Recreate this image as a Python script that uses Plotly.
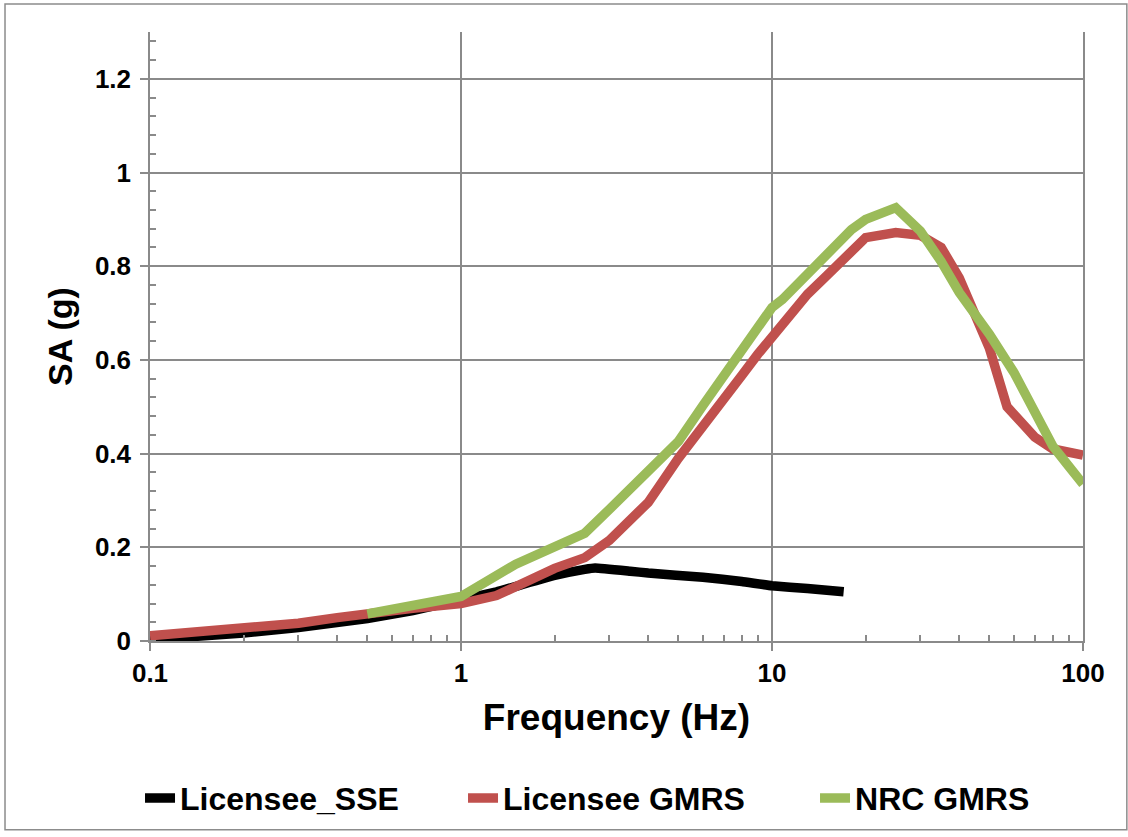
import plotly.graph_objects as go

# ---- data ----
sse_freq = [0.1, 0.2, 0.3, 0.5, 0.7, 1.0, 1.3, 2.0, 2.5, 2.7, 3.5, 4.0, 6.0, 8.0, 10.0, 13.0, 17.0]
sse_sa   = [0.003, 0.017, 0.029, 0.048, 0.065, 0.088, 0.105, 0.14, 0.153, 0.156, 0.149, 0.145, 0.136, 0.127, 0.118, 0.112, 0.105]

lic_freq = [0.1, 0.2, 0.3, 0.4, 0.5, 0.7, 1.0, 1.3, 2.0, 2.5, 3.0, 4.0, 5.0, 6.0, 7.0, 8.0, 9.0, 10.0, 13.0, 15.0,
            20.0, 25.0, 30.0, 35.0, 40.0, 50.0, 57.0, 70.0, 80.0, 100.0]
lic_sa   = [0.011, 0.025, 0.038, 0.05, 0.06, 0.07, 0.08, 0.097, 0.155, 0.178, 0.215, 0.296, 0.39, 0.456, 0.516, 0.567, 0.612, 0.648, 0.74, 0.78,
            0.861, 0.872, 0.866, 0.84, 0.775, 0.625, 0.5, 0.435, 0.41, 0.397]

nrc_freq = [0.5, 0.7, 1.0, 1.5, 2.0, 2.5, 3.0, 4.0, 5.0, 6.0, 7.0, 8.0, 9.0, 10.0, 10.8, 12.5, 15.0, 18.0, 20.0, 22.0,
            25.0, 30.0, 35.0, 40.0, 50.0, 60.0, 70.0, 80.0, 90.0, 100.0]
nrc_sa   = [0.058, 0.075, 0.095, 0.164, 0.203, 0.23, 0.281, 0.36, 0.426, 0.503, 0.567, 0.62, 0.669, 0.712, 0.729, 0.77, 0.82, 0.878, 0.9, 0.912,
            0.925, 0.875, 0.81, 0.744, 0.655, 0.573, 0.49, 0.416, 0.373, 0.335]

x_ticks = [0.1, 1, 10, 100]
x_tick_labels = ["0.1", "1", "10", "100"]
x_minor = [m * d for d in (0.1, 1, 10) for m in range(2, 10)]

FONT = "Liberation Sans, Arial, sans-serif"
GRID = "#8a8a8a"
LW = 9.5

fig = go.Figure()
fig.add_trace(go.Scatter(x=sse_freq, y=sse_sa, mode="lines", name="Licensee_SSE", legendwidth=278,
                         line=dict(color="#000000", width=LW, shape="spline", smoothing=0.3)))
fig.add_trace(go.Scatter(x=lic_freq, y=lic_sa, mode="lines", name="Licensee GMRS", legendwidth=307,
                         line=dict(color="#C0504D", width=LW)))
fig.add_trace(go.Scatter(x=nrc_freq, y=nrc_sa, mode="lines", name="NRC GMRS",
                         line=dict(color="#9BBB59", width=LW)))

fig.update_layout(
    width=1128, height=837,
    margin=dict(l=150, r=45, t=32, b=195),
    paper_bgcolor="white", plot_bgcolor="white",
    font=dict(family=FONT, color="black", size=24, weight="bold"),
    showlegend=True,
    legend=dict(orientation="h", x=-0.0107, xanchor="left", y=-0.256, yanchor="middle",
                font=dict(family=FONT, size=32, weight="bold", color="black"),
                tracegroupgap=0),
    shapes=[dict(type="rect", xref="paper", yref="paper",
                 x0=-0.1554, x1=1.047, y0=-0.31, y1=1.0459,
                 line=dict(color="#8c8c8c", width=1.5), fillcolor="rgba(0,0,0,0)", layer="below")],
)

fig.update_xaxes(
    type="log", range=[-1, 2],
    tickmode="array", tickvals=x_ticks, ticktext=x_tick_labels,
    ticks="outside", ticklen=8, tickwidth=1.5, tickcolor=GRID,
    tickfont=dict(family=FONT, size=26, weight="bold", color="black"),
    showgrid=True, gridcolor=GRID, gridwidth=1.5,
    showline=True, linecolor=GRID, linewidth=1.5,
    zeroline=False,
    minor=dict(tickmode="array", tickvals=x_minor, ticks="inside", ticklen=6,
               tickwidth=1.5, tickcolor=GRID, showgrid=False),
    title=dict(text="Frequency (Hz)", font=dict(family=FONT, size=37, weight="bold", color="black"),
               standoff=17),
)
fig.update_yaxes(
    range=[0, 1.3], tickmode="linear", tick0=0, dtick=0.2,
    ticks="outside", ticklen=8, tickwidth=1.5, tickcolor=GRID,
    tickfont=dict(family=FONT, size=26, weight="bold", color="black"),
    ticklabelstandoff=4,
    showgrid=True, gridcolor=GRID, gridwidth=1.5,
    showline=True, linecolor=GRID, linewidth=1.5, mirror=True,
    zeroline=False,
    minor=dict(tick0=0, dtick=0.04, ticks="inside", ticklen=6, tickwidth=1.5,
               tickcolor=GRID, showgrid=False),
    title=dict(text="SA (g)", font=dict(family=FONT, size=34, weight="bold", color="black"),
               standoff=12),
)

fig.write_html("out.html")
